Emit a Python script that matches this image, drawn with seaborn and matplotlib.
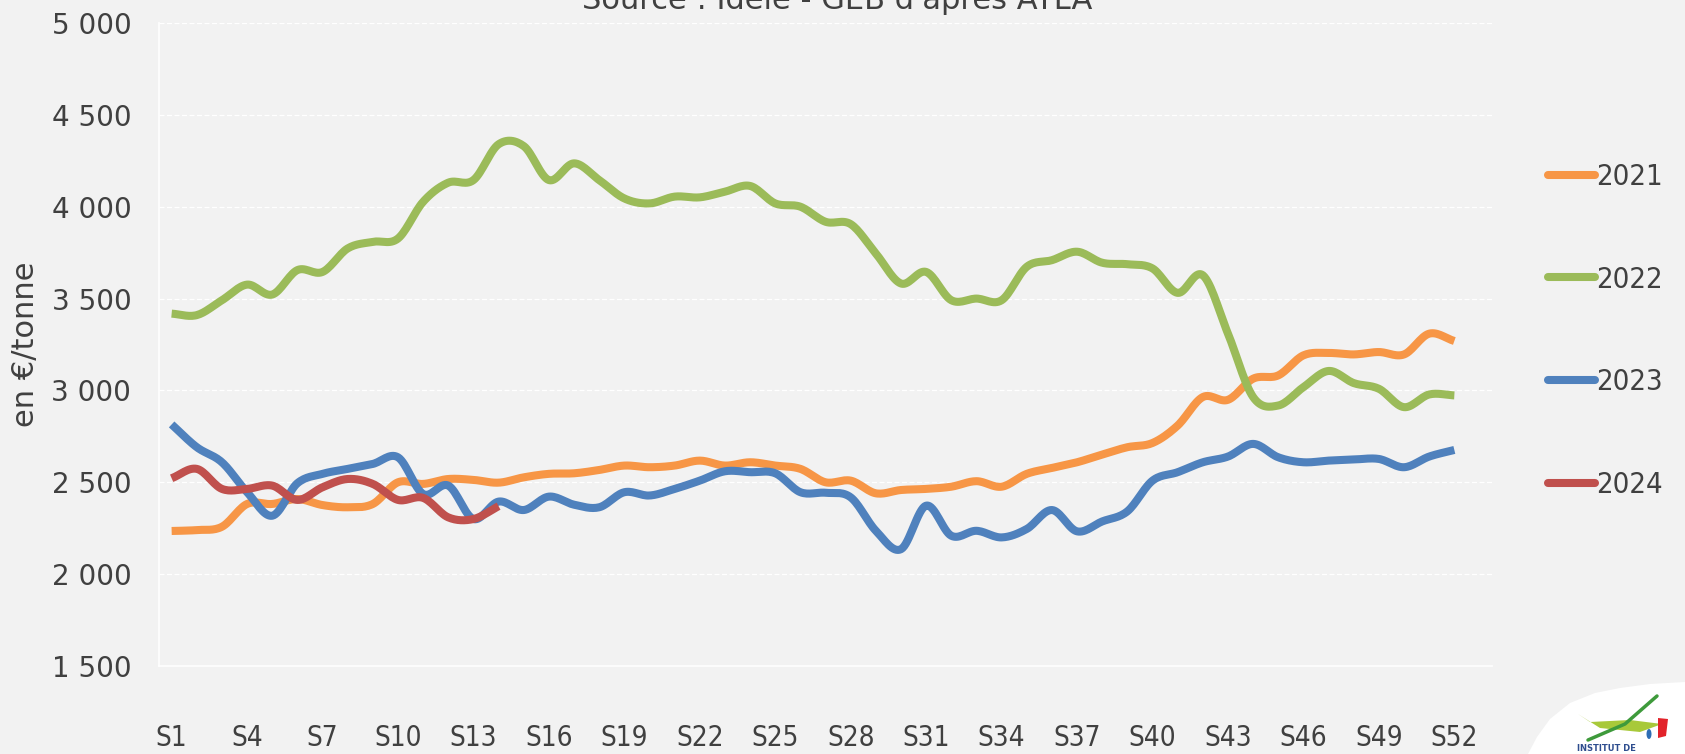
import numpy as np
import pandas as pd
import seaborn as sns
import matplotlib
matplotlib.use("Agg")
import matplotlib.pyplot as plt
from matplotlib.lines import Line2D
from matplotlib.patches import Ellipse, Polygon
from matplotlib.transforms import IdentityTransform

# prix hebdomadaires (€/tonne)
semaines = list(range(1, 53))
prix_2021 = [2235, 2240, 2258, 2382, 2382, 2409, 2376, 2364, 2382, 2500,
             2491, 2518, 2513, 2498, 2527, 2546, 2549, 2567, 2591, 2582,
             2591, 2618, 2591, 2609, 2591, 2573, 2500, 2509, 2440, 2458,
             2464, 2476, 2506, 2476, 2546, 2578, 2609, 2651, 2691, 2714,
             2809, 2964, 2949, 3064, 3082, 3191, 3204, 3196, 3209, 3196,
             3309, 3269]
prix_2022 = [3418, 3410, 3491, 3576, 3522, 3655, 3645, 3773, 3809, 3827,
             4027, 4131, 4145, 4340, 4330, 4145, 4236, 4145, 4045, 4018,
             4055, 4051, 4082, 4113, 4018, 4000, 3918, 3905, 3745, 3582,
             3645, 3491, 3500, 3491, 3673, 3709, 3755, 3695, 3687, 3664,
             3531, 3627, 3309, 2964, 2918, 3018, 3106, 3040, 3009, 2909,
             2978, 2973]
prix_2023 = [2815, 2691, 2609, 2446, 2318, 2495, 2546, 2573, 2600, 2636,
             2436, 2482, 2300, 2395, 2349, 2422, 2378, 2364, 2446, 2428,
             2464, 2509, 2560, 2555, 2549, 2446, 2443, 2418, 2236, 2136,
             2373, 2209, 2236, 2200, 2246, 2349, 2233, 2287, 2342, 2509,
             2555, 2609, 2640, 2709, 2636, 2609, 2618, 2624, 2627, 2582,
             2640, 2676]
prix_2024 = [2522, 2573, 2464, 2464, 2482, 2404, 2473, 2518, 2491, 2404,
             2415, 2309, 2300, 2370]

annees = ["2021", "2022", "2023", "2024"]
couleurs = {"2021": "#F79646", "2022": "#9BBB59", "2023": "#4F81BD", "2024": "#C0504D"}
labels_x = [f"S{s}" for s in range(1, 53, 3)]

FOND = "#F2F2F2"
TEXTE = "#404040"


def lisser(x, y, n=16):
    """Courbe lissée façon Excel (Catmull-Rom) pour l'affichage."""
    x = np.asarray(x, float)
    y = np.asarray(y, float)
    px = np.concatenate([[2 * x[0] - x[1]], x, [2 * x[-1] - x[-2]]])
    py = np.concatenate([[2 * y[0] - y[1]], y, [2 * y[-1] - y[-2]]])
    xs, ys = [], []
    for i in range(1, len(px) - 2):
        t = np.linspace(0, 1, n, endpoint=False)
        for p, out in ((px, xs), (py, ys)):
            p0, p1, p2, p3 = p[i - 1], p[i], p[i + 1], p[i + 2]
            out.append(0.5 * (2 * p1 + (-p0 + p2) * t
                              + (2 * p0 - 5 * p1 + 4 * p2 - p3) * t ** 2
                              + (-p0 + 3 * p1 - 3 * p2 + p3) * t ** 3))
    xs.append([x[-1]])
    ys.append([y[-1]])
    return np.concatenate(xs), np.concatenate(ys)


series = {"2021": prix_2021, "2022": prix_2022, "2023": prix_2023, "2024": prix_2024}
frames = []
for annee in annees:
    vals = series[annee]
    sx, sy = lisser(semaines[:len(vals)], vals)
    frames.append(pd.DataFrame({"semaine": sx, "prix": sy, "annee": annee}))
df = pd.concat(frames, ignore_index=True)

sns.set_style("white")
plt.rcParams["font.family"] = ["DejaVu Sans"]

fig = plt.figure(figsize=(16.85, 7.54), dpi=100, facecolor=FOND)
ax = fig.add_axes([0.0944, 0.1167, 0.7911, 0.8528])
ax.set_facecolor(FOND)

sns.lineplot(data=df, x="semaine", y="prix", hue="annee", hue_order=annees,
             palette=couleurs, estimator=None, sort=False, linewidth=5.8,
             legend=False, ax=ax, solid_capstyle="butt")

ax.set_xlim(0.5, 53.5)
ax.set_ylim(1500, 5000)
ax.set_yticks(range(1500, 5001, 500))
ax.set_yticklabels([f"{v:,}".replace(",", " ") for v in range(1500, 5001, 500)])
ax.set_xticks(range(1, 53, 3))
ax.set_xticklabels(labels_x)
ax.set_xticks(np.arange(0.5, 54, 1), minor=True)
ax.grid(axis="y", color="white", linestyle=(0, (4, 2)), linewidth=0.9)
ax.grid(axis="x", visible=False)
ax.set_axisbelow(True)

for side in ("top", "right"):
    ax.spines[side].set_visible(False)
for side in ("left", "bottom"):
    ax.spines[side].set_color("white")
    ax.spines[side].set_linewidth(1.2)

ax.tick_params(axis="y", length=0, pad=20, labelsize=20, labelcolor=TEXTE)
ax.tick_params(axis="x", which="major", length=0, pad=42, labelsize=20, labelcolor=TEXTE)
ax.tick_params(axis="x", which="minor", length=9, width=1.2, color="white", direction="out")
for lab in ax.get_xticklabels():
    lab.set_fontstretch("condensed")

ax.set_xlabel("")
ax.set_ylabel("en €/tonne", fontsize=22, color=TEXTE)
ax.yaxis.set_label_coords(-0.089, 0.5)

poignees = [Line2D([], [], color=couleurs[a], linewidth=5.8) for a in annees]
fig.legend(poignees, annees, loc="upper left",
           bbox_to_anchor=(1548 / 1685, 1 - 163 / 754), frameon=False,
           prop={"size": 21, "stretch": "condensed"}, labelcolor=TEXTE,
           handlelength=1.61, handletextpad=0.05,
           labelspacing=2.56, borderpad=0, borderaxespad=0)

# titre source, coupé en haut comme sur l'original
fig.text(837 / 1685, 1 - 9 / 754, "Source : Idele - GEB d'après ATLA",
         ha="center", va="baseline", fontsize=22, color=TEXTE)

# logo en bas à droite (approximation)
px = IdentityTransform()
fig.add_artist(Polygon([(1528, 0), (1537, 17), (1550, 35), (1570, 51), (1595, 61),
                        (1620, 66), (1650, 70), (1685, 72), (1685, 0)],
                       closed=True, facecolor="white", edgecolor="none", transform=px))
fig.add_artist(Polygon([(1578, 40), (1600, 26), (1640, 22), (1662, 30), (1630, 34), (1590, 32)],
                       closed=True, facecolor="#A8C93A", edgecolor="none", transform=px))
fig.add_artist(Line2D([1588, 1625, 1657], [14, 30, 58], color="#3E9A3B", linewidth=2.5,
                      transform=px))
fig.add_artist(Polygon([(1658, 36), (1668, 35), (1666, 18), (1658, 16)], closed=True,
                       facecolor="#E2232A", edgecolor="none", transform=px))
fig.add_artist(Ellipse((1649, 20), 5, 10, facecolor="#2E6DB4", edgecolor="none",
                       transform=px))
fig.text(1577 / 1685, 1 / 754, "INSTITUT DE", fontsize=6, color="#2E4D8E",
         fontweight="bold", ha="left", va="bottom")

fig.savefig("out.png", dpi=100, facecolor=FOND)
